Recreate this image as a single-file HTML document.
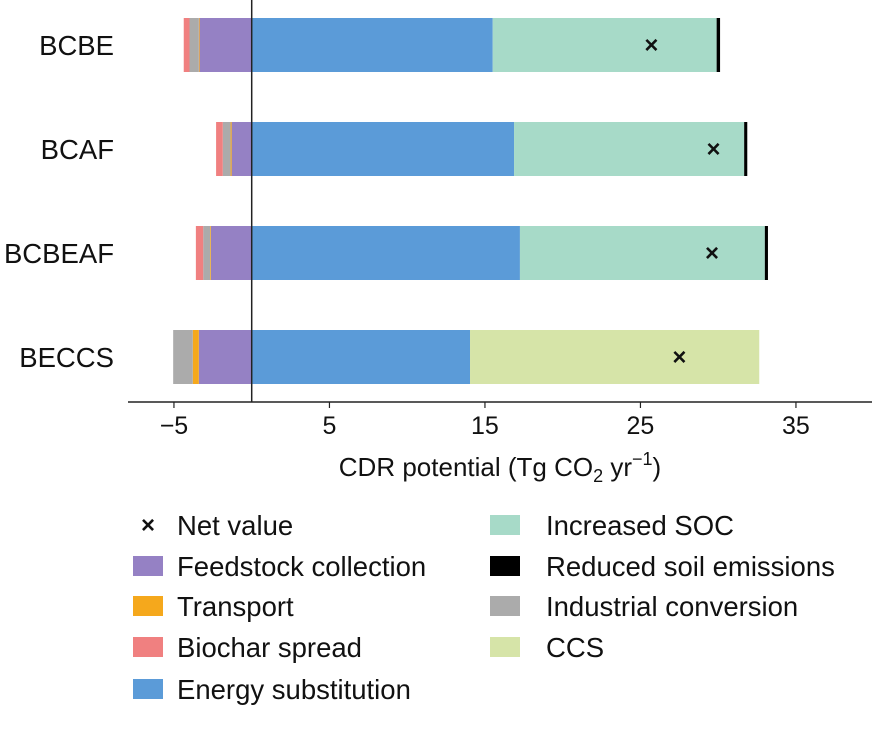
<!DOCTYPE html>
<html><head><meta charset="utf-8"><style>
body{margin:0;background:#fff;font-family:"Liberation Sans",sans-serif}
svg text{font-family:"Liberation Sans",sans-serif;fill:#111}
</style></head><body>
<svg id="chart" width="881" height="750"></svg>
<script>
const categories=["BCBE","BCAF","BCBEAF","BECCS"];
const feedstock=[-3.35,-1.29,-2.62,-3.4];
const transport=[-0.05,-0.07,-0.05,-0.39];
const industrial=[-0.6,-0.5,-0.45,-1.26];
const spread=[-0.37,-0.43,-0.47,0];
const energy=[15.5,16.87,17.25,14.04];
const soc=[14.4,14.8,15.75,0];
const soil=[0.22,0.2,0.2,0];
const ccs=[0,0,0,18.6];
const net=[25.7,29.7,29.6,27.5];
const ticks=[-5,5,15,25,35];
const x0=251.7,k=15.55;
const X=v=>x0+v*k;
const centers=[45,149,253,357];
const Y=i=>centers[i];
const NS="http://www.w3.org/2000/svg";
const svg=document.getElementById("chart");
function mk(t,a){const e=document.createElementNS(NS,t);for(const n in a)e.setAttribute(n,a[n]);svg.appendChild(e);return e;}
const neg=[[feedstock,"#9581c4","feedstock"],[transport,"#f5a81c","transport"],[industrial,"#ababab","industrial"],[spread,"#f08080","spread"]];
const pos=[[energy,"#5b9bd8","energy"],[soc,"#a7dac8","soc"],[soil,"#000","soil"],[ccs,"#d6e4a8","ccs"]];
categories.forEach((c,i)=>{
  let acc=0;
  neg.forEach(([arr,col,nm])=>{const v=arr[i];if(!v)return;
    const r=mk("rect",{x:X(acc+v),y:Y(i)-27,width:-v*k,height:54,fill:col});
    
    acc+=v;});
  acc=0;
  pos.forEach(([arr,col,nm])=>{const v=arr[i];if(!v)return;
    const r=mk("rect",{x:X(acc),y:Y(i)-27,width:v*k,height:54,fill:col});
    
    acc+=v;});
  const m=mk("text",{x:X(net[i]),y:Y(i)+8,"text-anchor":"middle","font-size":"24","font-weight":"bold"});m.textContent="×";
  
  
  const l=mk("text",{x:114,y:Y(i)+10,"text-anchor":"end","font-size":"27.5"});l.textContent=c;
  
  
});
const zl=mk("line",{x1:X(0),x2:X(0),y1:0,y2:402,stroke:"#222","stroke-width":1.5});

const ax=mk("line",{x1:128,x2:872,y1:402,y2:402,stroke:"#222","stroke-width":1.5});

ticks.forEach(t=>{
  const tm=mk("line",{x1:X(t),x2:X(t),y1:402,y2:408,stroke:"#222","stroke-width":1.2});
  
  const tl=mk("text",{x:X(t),y:434,"text-anchor":"middle","font-size":"25"});tl.textContent=t<0?"\u2212"+(-t):t;
  
});
const at=mk("text",{x:500,y:476,"text-anchor":"middle","font-size":"26"});
at.innerHTML='CDR potential (Tg CO<tspan font-size="18" dy="6">2</tspan><tspan dy="-6"> yr</tspan><tspan font-size="18" dy="-11">−1</tspan><tspan dy="11">)</tspan>';

const legend=[[133,525,"x","Net value"],[133,566,"#9581c4","Feedstock collection"],[133,606,"#f5a81c","Transport"],[133,647,"#f08080","Biochar spread"],[133,689,"#5b9bd8","Energy substitution"],
[490,525,"#a7dac8","Increased SOC"],[490,566,"#000","Reduced soil emissions"],[490,606,"#ababab","Industrial conversion"],[490,647,"#d6e4a8","CCS"]];
legend.forEach(([x,y,c,t])=>{
  if(c==="x"){const m=mk("text",{x:x+15,y:y+8,"text-anchor":"middle","font-size":"24","font-weight":"bold"});m.textContent="×";
    }
  else{const r=mk("rect",{x:x,y:y-10,width:30,height:20,fill:c});
    }
  const tx=mk("text",{x:x+(x<300?44:56),y:y+10,"font-size":"27.5"});tx.textContent=t;
  
});
</script>
</body></html>
